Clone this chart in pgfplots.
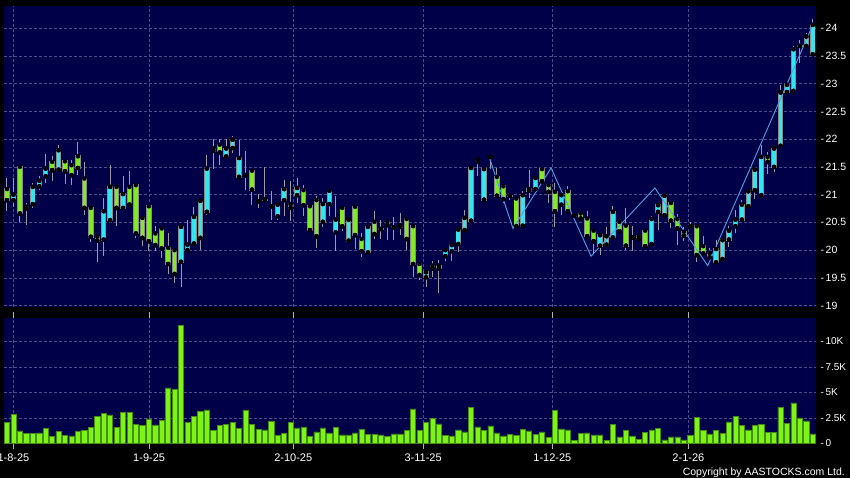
\documentclass[border=0pt]{standalone}
\usepackage{fontspec}
\setmainfont{Liberation Sans}
\usepackage{pgfplots}
\usepackage{pgfplotstable}
\pgfplotsset{compat=1.18}
\definecolor{navy}{RGB}{0,0,72}
\definecolor{gridc}{RGB}{78,78,140}
\definecolor{upc}{RGB}{50,230,240}
\definecolor{dnc}{RGB}{128,236,32}
\definecolor{outc}{RGB}{135,140,140}
\definecolor{wickc}{RGB}{155,155,160}
\definecolor{volc}{RGB}{124,245,20}
\definecolor{vold}{RGB}{70,140,20}
\definecolor{zigc}{RGB}{80,160,230}
\pgfplotstableread{
i o h l c
0 21.10 21.30 20.70 20.90
1 20.90 21.30 20.78 21.00
2 21.50 21.52 20.50 20.66
3 20.75 20.85 20.46 20.78
4 20.83 21.21 20.76 21.14
5 21.15 21.33 21.09 21.25
6 21.33 21.74 21.21 21.47
7 21.59 21.69 21.24 21.44
8 21.45 21.90 21.45 21.80
9 21.60 21.64 21.20 21.42
10 21.53 21.63 21.18 21.35
11 21.69 21.95 21.36 21.48
12 21.29 21.59 20.64 20.76
13 20.76 20.78 20.15 20.24
14 20.24 20.25 19.79 20.17
15 20.19 20.94 19.89 20.70
16 20.54 21.54 20.54 21.14
17 21.14 21.14 20.43 20.76
18 20.76 21.34 20.76 21.01
19 21.14 21.42 20.82 20.82
20 21.17 21.17 20.22 20.30
21 20.58 20.58 20.07 20.22
22 20.79 20.79 19.98 20.16
23 20.30 20.43 19.98 20.09
24 20.39 20.39 19.86 20.03
25 20.04 20.30 19.57 19.75
26 20.00 20.00 19.40 19.57
27 19.79 20.42 19.33 20.42
28 20.00 20.54 20.00 20.10
29 20.12 20.78 20.12 20.60
30 20.22 20.89 20.01 20.89
31 20.69 21.72 20.64 21.47
32 21.79 22.00 21.46 21.83
33 21.90 22.00 21.54 21.76
34 21.69 22.00 21.64 21.83
35 21.84 22.05 21.75 21.99
36 21.32 21.99 21.32 21.66
37 21.35 21.78 21.09 21.35
38 21.43 21.43 20.82 21.09
39 20.88 21.01 20.75 20.88
40 20.91 21.50 20.88 20.91
41 20.79 21.07 20.54 20.79
42 20.61 20.82 20.54 20.82
43 20.90 21.26 20.62 21.10
44 20.76 21.24 20.52 20.83
45 20.99 21.30 20.85 21.12
46 21.08 21.18 20.62 20.81
47 20.79 20.80 20.32 20.36
48 20.90 20.98 20.04 20.25
49 20.51 20.94 20.42 20.83
50 20.83 21.09 20.62 21.07
51 20.32 20.98 19.99 20.55
52 20.76 20.77 20.34 20.43
53 20.17 20.58 20.17 20.55
54 20.78 20.79 20.02 20.27
55 20.20 20.30 19.87 19.98
56 19.96 20.46 19.96 20.42
57 20.51 20.71 20.20 20.29
58 20.38 20.55 20.20 20.38
59 20.51 20.52 20.19 20.45
60 20.41 20.60 20.19 20.41
61 20.42 20.66 20.28 20.44
62 20.56 20.57 20.01 20.20
63 20.43 20.44 19.51 19.75
64 19.75 19.76 19.46 19.55
65 19.51 19.64 19.33 19.60
66 19.72 19.81 19.52 19.67
67 19.67 19.82 19.23 19.72
68 19.89 20.00 19.81 20.00
69 19.98 20.09 19.80 20.09
70 20.11 20.42 19.96 20.37
71 20.36 20.73 20.36 20.58
72 20.53 21.50 20.53 21.48
73 21.59 21.66 21.33 21.63
74 20.91 21.49 20.91 21.46
75 21.68 21.68 21.47 21.68
76 21.32 21.48 20.98 20.98
77 21.15 21.16 20.85 20.92
78 20.98 21.00 20.90 20.98
79 20.93 20.94 20.38 20.43
80 20.44 21.06 20.44 20.99
81 21.07 21.45 20.94 21.10
82 21.10 21.32 21.08 21.30
83 21.46 21.47 21.24 21.24
84 21.17 21.18 20.85 21.05
85 21.05 21.21 20.42 20.70
86 20.82 20.99 20.64 20.99
87 21.06 21.15 20.70 20.70
88 20.62 20.65 20.58 20.62
89 20.66 20.68 20.55 20.57
90 20.57 20.70 20.25 20.25
91 20.35 20.36 19.95 20.16
92 20.08 20.27 19.92 20.27
93 20.10 20.42 20.10 20.25
94 20.23 20.79 20.23 20.69
95 20.51 20.52 20.34 20.34
96 20.44 20.76 20.01 20.08
97 20.23 20.43 19.98 20.23
98 20.25 20.26 20.19 20.20
99 20.35 20.36 20.04 20.07
100 20.11 20.62 20.10 20.56
101 20.69 20.85 20.37 20.81
102 20.63 21.03 20.63 20.98
103 20.85 20.86 20.39 20.53
104 20.56 20.65 20.09 20.39
105 20.33 20.41 20.17 20.26
106 20.43 20.51 20.40 20.43
107 20.43 20.44 19.79 19.91
108 20.07 20.25 19.93 19.94
109 19.87 20.03 19.86 19.95
110 19.78 20.18 19.77 20.02
111 19.84 20.18 19.84 20.18
112 20.19 20.43 20.06 20.35
113 20.43 20.73 20.31 20.55
114 20.55 20.91 20.55 20.82
115 20.79 21.06 20.75 21.06
116 21.08 21.45 20.93 21.45
117 20.99 21.89 20.99 21.68
118 21.68 21.77 21.37 21.59
119 21.50 21.83 21.41 21.83
120 21.88 22.98 21.88 22.84
121 22.85 23.00 22.85 22.98
122 22.87 23.67 22.87 23.62
123 23.68 23.79 23.37 23.68
124 23.68 23.92 23.68 23.85
125 23.53 24.16 23.53 24.06
}\candles
\pgfplotstableread{
i v
0 2.03
1 2.81
2 1.21
3 0.95
4 0.98
5 1.01
6 1.47
7 0.65
8 1.18
9 0.78
10 0.72
11 1.18
12 1.24
13 1.57
14 2.65
15 2.91
16 2.78
17 1.54
18 3.01
19 3.04
20 1.86
21 1.73
22 2.39
23 1.80
24 2.22
25 5.42
26 5.29
27 11.57
28 2.03
29 2.61
30 3.14
31 3.27
32 1.24
33 1.73
34 1.83
35 2.06
36 1.47
37 3.20
38 1.83
39 1.34
40 1.31
41 2.16
42 0.78
43 0.98
44 2.06
45 1.50
46 1.57
47 0.69
48 1.11
49 1.50
50 1.01
51 1.57
52 0.82
53 0.82
54 1.01
55 1.37
56 0.88
57 0.88
58 0.82
59 0.69
60 0.92
61 0.92
62 1.27
63 3.37
64 1.27
65 2.06
66 2.42
67 1.90
68 0.78
69 0.72
70 1.31
71 1.11
72 3.50
73 1.60
74 1.27
75 1.70
76 1.01
77 0.72
78 0.85
79 0.75
80 1.37
81 1.21
82 0.85
83 1.11
84 0.56
85 3.20
86 1.41
87 1.31
88 0.29
89 0.98
90 1.01
91 0.82
92 0.82
93 0.29
94 1.83
95 0.62
96 1.24
97 0.72
98 0.39
99 1.05
100 1.31
101 1.47
102 0.33
103 0.62
104 0.62
105 0.33
106 0.75
107 2.52
108 1.27
109 0.92
110 1.24
111 0.98
112 2.09
113 2.61
114 1.73
115 1.31
116 1.73
117 1.86
118 1.05
119 1.08
120 3.50
121 1.93
122 3.95
123 2.48
124 2.19
125 0.92
}\vol
\begin{document}
\begin{tikzpicture}[x=1pt,y=1pt]
\path[use as bounding box] (0,0) rectangle (850,478);
\clip (0,0) rectangle (850,478);
\fill[black] (0,0) rectangle (850,478);
\pgfplotsset{
  panel/.style={
    anchor=south west, scale only axis, width=812pt,
    xmin=-0.465, xmax=125.5,
    axis background/.style={fill=navy},
    axis line style={draw=none},
    xtick={1,22.05,44.4,64.55,84.6,105.7},
    yticklabel pos=right,
    grid=major,
    major grid style={draw=gridc, line width=0.5pt, dash pattern=on 3pt off 2pt},
  }
}
\begin{axis}[panel, at={(4pt,171.3pt)}, height=300.7pt,
  ymin=18.98, ymax=24.40,
  xticklabels={},
  major tick length=0pt,
  yticklabel style={anchor=west, inner sep=0pt, xshift=4.5pt, text=white, font=\fontsize{10.5}{12}\selectfont},
  ytick={19,19.5,20,20.5,21,21.5,22,22.5,23,23.5,24},
  yticklabels={-\hspace{1.5pt}19,-\hspace{1.5pt}19.5,-\hspace{1.5pt}20,-\hspace{1.5pt}20.5,-\hspace{1.5pt}21,-\hspace{1.5pt}21.5,-\hspace{1.5pt}22,-\hspace{1.5pt}22.5,-\hspace{1.5pt}23,-\hspace{1.5pt}23.5,-\hspace{1.5pt}24},
]
% wicks
\addplot[only marks, mark=none, forget plot,
  error bars/.cd, y dir=both, y explicit, error mark=none,
  error bar style={draw=wickc, line width=1pt}]
  table[x=i, y=c, y error plus expr={\thisrow{h}-\thisrow{c}}, y error minus expr={\thisrow{c}-\thisrow{l}}] \candles;
% body outlines
\addplot[only marks, mark=none, forget plot,
  error bars/.cd, y dir=both, y explicit, error mark=none,
  error bar style={draw=outc, line width=5.4pt}]
  table[x=i, y expr={min(\thisrow{o},\thisrow{c})}, y error plus expr={abs(\thisrow{c}-\thisrow{o})+0.016}, y error minus expr={0.016}] \candles;
% up bodies
\addplot[only marks, mark=none, forget plot,
  error bars/.cd, y dir=plus, y explicit, error mark=none,
  error bar style={draw=upc, line width=3.6pt}]
  table[x=i, y=o, y error plus expr={max(\thisrow{c}-\thisrow{o},0)}] \candles;
% down bodies
\addplot[only marks, mark=none, forget plot,
  error bars/.cd, y dir=plus, y explicit, error mark=none,
  error bar style={draw=dnc, line width=3.6pt}]
  table[x=i, y=c, y error plus expr={max(\thisrow{o}-\thisrow{c},0)}] \candles;
% zigzag line
\addplot[zigc, line width=0.9pt, mark=none] coordinates {
(74.8,21.68) (78.5,20.39) (84.4,21.48) (90.6,19.89) (100.5,21.12) (108.7,19.72) (125.0,24.06)};
\end{axis}
\begin{axis}[panel, at={(4pt,34.7pt)}, height=125pt,
  ymin=0, ymax=12.25,
  ytick={0,2.5,5,7.5,10},
  yticklabel style={anchor=west, inner sep=0pt, xshift=-1.5pt, text=white, font=\fontsize{10}{12}\selectfont},
  yticklabels={-\hspace{1.5pt}0,-\hspace{1.5pt}2.5K,-\hspace{1.5pt}5K,-\hspace{1.5pt}7.5K,-\hspace{1.5pt}10K},
  xticklabels={1-8-25,1-9-25,2-10-25,3-11-25,1-12-25,2-1-26},
  xticklabel style={anchor=north, inner sep=0pt, yshift=-4pt, text=white, font=\fontsize{11}{13}\selectfont},
  tick align=outside,
  xtick style={draw=white!70!black, line width=0.7pt},
  ytick style={draw=none},
  major tick length=6pt,
]
\addplot[ybar, bar width=5.2pt, fill=volc, draw=vold, line width=0.6pt] table[x=i, y=v] \vol;
\end{axis}
\node[anchor=base east, inner sep=0pt, text=white, font=\fontsize{10.5}{12}\selectfont] at (845,2) {Copyright by AASTOCKS.com Ltd.};
\end{tikzpicture}
\end{document}
